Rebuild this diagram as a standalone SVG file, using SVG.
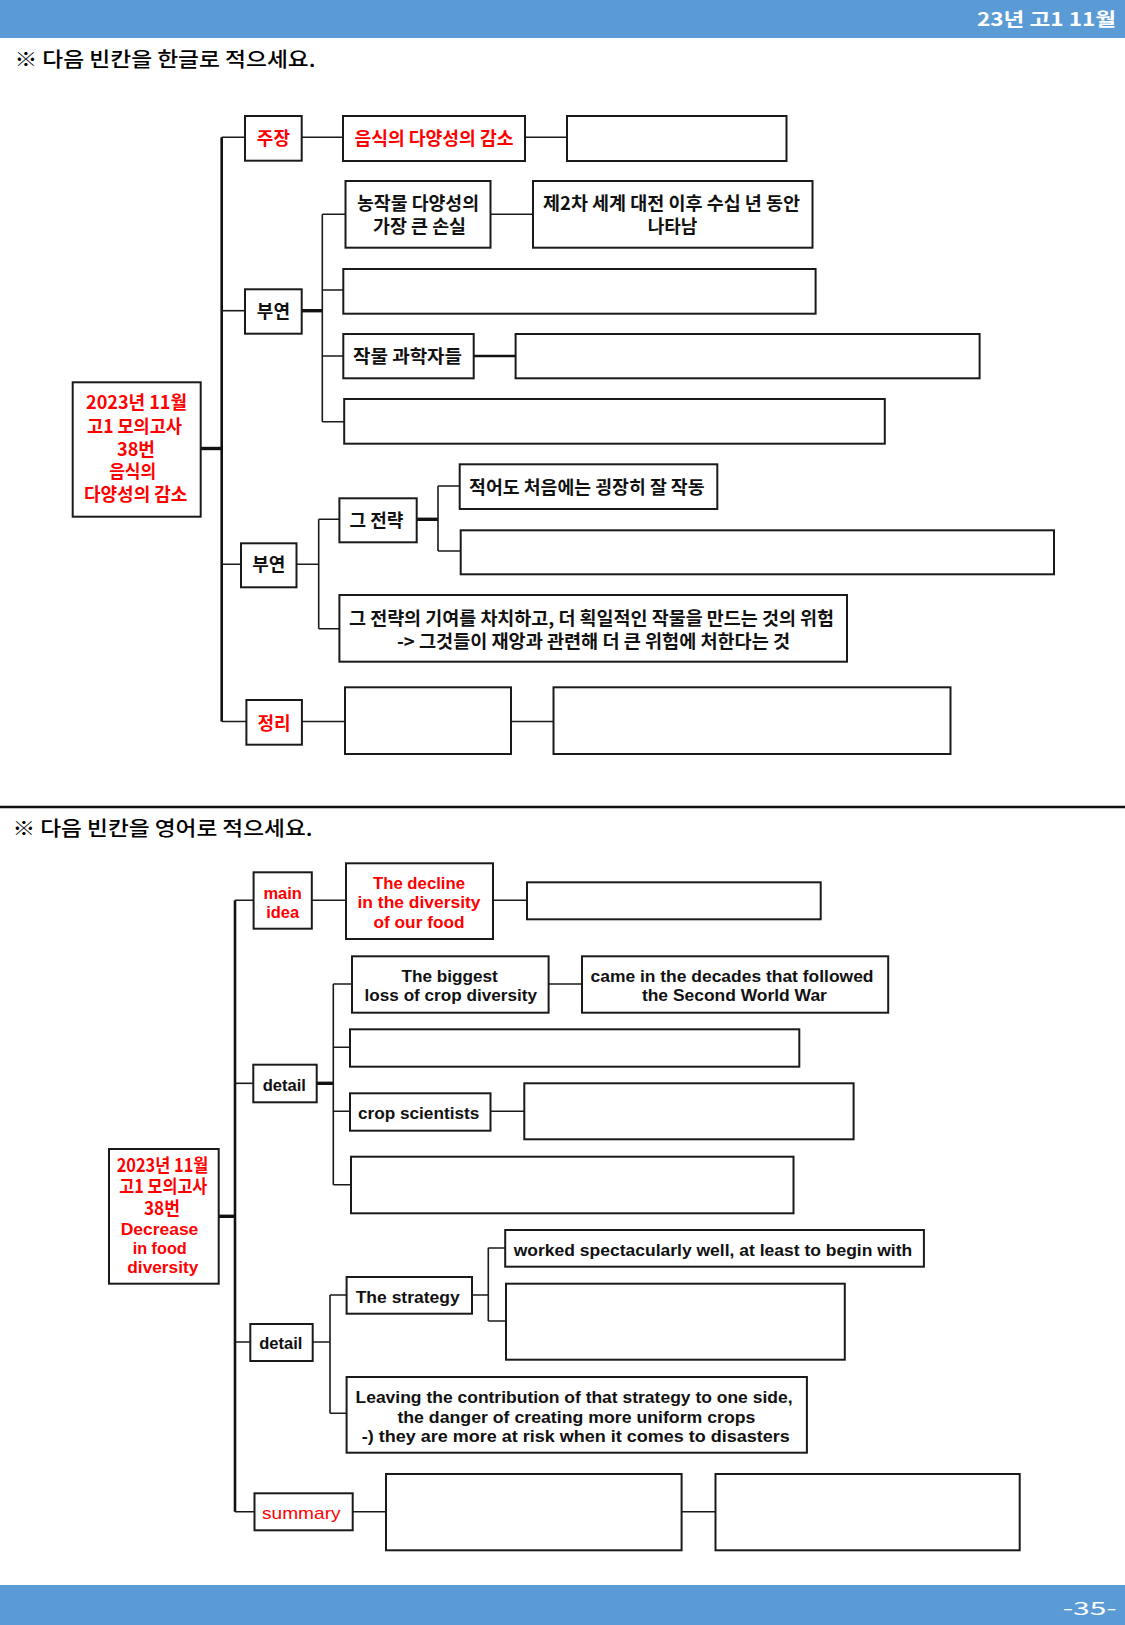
<svg xmlns="http://www.w3.org/2000/svg" width="1125" height="1625" viewBox="0 0 1125 1625">
<style>
.bar{fill:#5B9BD5}
.box{fill:#fff;stroke:#1a1a1a;stroke-width:2}
.c{fill:none;stroke:#1a1a1a;stroke-width:1.6}
.ct{fill:none;stroke:#111;stroke-width:3.4}
.tr{fill:none;stroke:#111;stroke-width:2.6}
text{font-family:"Noto Sans CJK KR","Noto Sans",sans-serif;text-anchor:middle;font-size:18px}
.k{font-weight:700;fill:#111}
.e{font-family:"Liberation Sans",Arial,sans-serif;font-weight:700;font-size:17px;fill:#111}
.r{fill:#f00}
.w{fill:#fff}
.h{text-anchor:start;font-size:20px;font-weight:500;fill:#000}
.lt{font-weight:400}
</style>
<rect class="bar" x="0" y="0" width="1125" height="38"/>
<text class="w" x="1046.5" y="26" font-size="22" font-weight="700" textLength="139" lengthAdjust="spacingAndGlyphs">23년 고1 11월</text>
<text class="h" x="14.5" y="67" textLength="301" lengthAdjust="spacingAndGlyphs">※ 다음 빈칸을 한글로 적으세요.</text>
<g id="connectors1">
<path class="tr" d="M221.7 137.3V721.5"/>
<path class="ct" d="M200.7 448.5H221.7"/>
<path class="c" d="M221.7 137.3H245M301.7 137.3H343M525 137.3H567"/>
<path class="c" d="M221.7 310.7H245"/>
<path class="ct" d="M301.7 310.7H322.3"/>
<path class="c" d="M322.3 214.3V421.7M322.3 214.3H345.5M490.6 214.3H533M322.3 290H343.3M322.3 356H343.3M322.3 421.7H344.2"/>
<path class="tr" d="M473.7 356H515.6"/>
<path class="c" d="M221.7 564.3H241M296.5 564.3H318.7M318.7 519.3V628.7M318.7 519.3H339.4M318.7 628.7H339.4"/>
<path class="ct" d="M416.7 519.3H438"/>
<path class="c" d="M438 486V551M438 486H459.7M438 551H460.7"/>
<path class="c" d="M221.7 721.5H246.4M301.9 721.5H345M511 721.5H553.5"/>
</g>
<g id="n-root1"><rect class="box" x="72.7" y="382.3" width="128" height="134.4"/>
<text class="k r" font-size="17"><tspan x="136.5" y="409" textLength="101" lengthAdjust="spacingAndGlyphs">2023년 11월</tspan><tspan x="134.5" y="433.3" textLength="95" lengthAdjust="spacingAndGlyphs">고1 모의고사</tspan><tspan x="136" y="455.5" textLength="38" lengthAdjust="spacingAndGlyphs">38번</tspan><tspan x="132.7" y="478" textLength="47" lengthAdjust="spacingAndGlyphs">음식의</tspan><tspan x="135.7" y="500.8" textLength="103.5" lengthAdjust="spacingAndGlyphs">다양성의 감소</tspan></text></g>
<g id="n-claim"><rect class="box" x="245" y="116" width="56.7" height="44.7"/><text class="k r" x="273.4" y="144.5">주장</text></g>
<g id="n-claim-text"><rect class="box" x="343" y="116" width="182" height="45"/><text class="k r" x="434" y="144.5" textLength="159" lengthAdjust="spacingAndGlyphs">음식의 다양성의 감소</text></g>
<g id="n-blank1"><rect class="box" x="567" y="116" width="219.5" height="45"/></g>
<g id="n-detail1"><rect class="box" x="245" y="289.3" width="56.7" height="44.4"/><text class="k" x="273.4" y="317.5">부연</text></g>
<g id="n-loss"><rect class="box" x="345.5" y="181" width="145" height="66.7"/>
<text class="k"><tspan x="418" y="209.5" textLength="122" lengthAdjust="spacingAndGlyphs">농작물 다양성의</tspan><tspan x="419.5" y="232.5" textLength="93" lengthAdjust="spacingAndGlyphs">가장 큰 손실</tspan></text></g>
<g id="n-ww2"><rect class="box" x="533" y="181" width="279.5" height="66.7"/>
<text class="k"><tspan x="671.5" y="209.5" textLength="257" lengthAdjust="spacingAndGlyphs">제2차 세계 대전 이후 수십 년 동안</tspan><tspan x="672.5" y="232.5">나타남</tspan></text></g>
<g id="n-blank2"><rect class="box" x="343.3" y="269" width="472.3" height="44.7"/></g>
<g id="n-scientists"><rect class="box" x="343.3" y="334" width="130.4" height="44.3"/><text class="k" x="407.5" y="362.5" textLength="109" lengthAdjust="spacingAndGlyphs">작물 과학자들</text></g>
<g id="n-blank3"><rect class="box" x="515.6" y="334" width="464" height="44.3"/></g>
<g id="n-blank4"><rect class="box" x="344.2" y="399" width="540.6" height="44.7"/></g>
<g id="n-detail2"><rect class="box" x="241" y="543.3" width="55.5" height="44"/><text class="k" x="268.8" y="571">부연</text></g>
<g id="n-strategy"><rect class="box" x="339.4" y="498.3" width="77.3" height="44"/><text class="k" x="376.5" y="526.5">그 전략</text></g>
<g id="n-worked"><rect class="box" x="459.7" y="464.3" width="257.6" height="44.7"/><text class="k" x="586.8" y="494" textLength="235.5" lengthAdjust="spacingAndGlyphs">적어도 처음에는 굉장히 잘 작동</text></g>
<g id="n-blank5"><rect class="box" x="460.7" y="530.3" width="593.3" height="44"/></g>
<g id="n-danger"><rect class="box" x="339.4" y="595" width="507.6" height="66.7"/>
<text class="k"><tspan x="591.5" y="624.5" textLength="485" lengthAdjust="spacingAndGlyphs">그 전략의 기여를 차치하고, 더 획일적인 작물을 만드는 것의 위험</tspan><tspan x="593.5" y="647.8" textLength="393" lengthAdjust="spacingAndGlyphs">-&gt; 그것들이 재앙과 관련해 더 큰 위험에 처한다는 것</tspan></text></g>
<g id="n-summary1"><rect class="box" x="246.4" y="700" width="55.5" height="44.7"/><text class="k r" x="274" y="730">정리</text></g>
<g id="n-blank6"><rect class="box" x="345" y="687.3" width="166" height="66.7"/></g>
<g id="n-blank7"><rect class="box" x="553.5" y="687.3" width="397" height="66.7"/></g>

<path d="M0 807H1125" stroke="#111" stroke-width="2.6"/>
<text class="h" x="12.5" y="836" textLength="300" lengthAdjust="spacingAndGlyphs">※ 다음 빈칸을 영어로 적으세요.</text>
<g id="connectors2">
<path class="tr" d="M235 900.3V1511.7"/>
<path class="c" d="M235 900.3H253.6M311.8 900.3H346M493 900.3H527"/>
<path class="c" d="M235 1083.3H253.3"/>
<path class="ct" d="M316.7 1083.3H333.3"/>
<path class="c" d="M333.3 984V1184.7M333.3 984H352M548.6 984H582M333.3 1047.3H350M333.3 1111.3H350M490.5 1111.3H524.3M333.3 1184.7H351"/>
<path class="ct" d="M218.7 1216.3H235"/>
<path class="c" d="M235 1342H250.3M312.7 1342H330M330 1295V1413.3M330 1295H346.6M330 1413.3H346.6M472 1295H488.3M488.3 1247.7V1321M488.3 1248H505.2M488.3 1321H506"/>
<path class="c" d="M235 1511.7H254.5M352.7 1511.7H386M681.6 1511.7H715.5"/>
</g>
<g id="n-root2"><rect class="box" x="109" y="1149" width="109.7" height="134.7"/>
<text class="k r" font-size="15"><tspan x="162.5" y="1171.5" textLength="91.7" lengthAdjust="spacingAndGlyphs">2023년 11월</tspan><tspan x="163.3" y="1193.3" textLength="88" lengthAdjust="spacingAndGlyphs">고1 모의고사</tspan><tspan x="162" y="1215" textLength="36" lengthAdjust="spacingAndGlyphs">38번</tspan></text>
<text class="e r" font-size="16.5"><tspan x="159.5" y="1235" textLength="77.7" lengthAdjust="spacingAndGlyphs">Decrease</tspan><tspan x="159.7" y="1254" textLength="54" lengthAdjust="spacingAndGlyphs">in food</tspan><tspan x="162.8" y="1273" textLength="71" lengthAdjust="spacingAndGlyphs">diversity</tspan></text></g>
<g id="n-mainidea"><rect class="box" x="253.6" y="872.3" width="58.2" height="56.4"/>
<text class="e r"><tspan x="282.7" y="898.5" textLength="38.5" lengthAdjust="spacingAndGlyphs">main</tspan><tspan x="282.7" y="917.5" textLength="33" lengthAdjust="spacingAndGlyphs">idea</tspan></text></g>
<g id="n-decline"><rect class="box" x="346" y="863.3" width="147" height="75.7"/>
<text class="e r"><tspan x="419" y="888.5" textLength="92" lengthAdjust="spacingAndGlyphs">The decline</tspan><tspan x="419" y="908" textLength="123" lengthAdjust="spacingAndGlyphs">in the diversity</tspan><tspan x="419" y="927.5" textLength="91" lengthAdjust="spacingAndGlyphs">of our food</tspan></text></g>
<g id="n-blank-a"><rect class="box" x="527" y="882.3" width="293.7" height="37"/></g>
<g id="n-detail-e1"><rect class="box" x="253.3" y="1064.7" width="63.4" height="37.6"/><text class="e" x="284.3" y="1090.5" textLength="43.3" lengthAdjust="spacingAndGlyphs">detail</text></g>
<g id="n-biggest"><rect class="box" x="352" y="956.3" width="196.6" height="56.4"/>
<text class="e"><tspan x="449.6" y="981.5" textLength="96.4" lengthAdjust="spacingAndGlyphs">The biggest</tspan><tspan x="450.8" y="1001" textLength="172.5" lengthAdjust="spacingAndGlyphs">loss of crop diversity</tspan></text></g>
<g id="n-came"><rect class="box" x="582" y="956.3" width="306.2" height="56.4"/>
<text class="e"><tspan x="732" y="981.5" textLength="283" lengthAdjust="spacingAndGlyphs">came in the decades that followed</tspan><tspan x="734.4" y="1001" textLength="185" lengthAdjust="spacingAndGlyphs">the Second World War</tspan></text></g>
<g id="n-blank-b"><rect class="box" x="350" y="1029.3" width="449.3" height="37.4"/></g>
<g id="n-crop"><rect class="box" x="350" y="1093.3" width="140.5" height="37.4"/><text class="e" x="418.6" y="1119" textLength="121.4" lengthAdjust="spacingAndGlyphs">crop scientists</text></g>
<g id="n-blank-c"><rect class="box" x="524.3" y="1083.3" width="329.3" height="56"/></g>
<g id="n-blank-d"><rect class="box" x="351" y="1156.7" width="442.5" height="56.6"/></g>
<g id="n-detail-e2"><rect class="box" x="250.3" y="1324" width="62.4" height="37"/><text class="e" x="280.8" y="1349" textLength="43" lengthAdjust="spacingAndGlyphs">detail</text></g>
<g id="n-thestrategy"><rect class="box" x="346.6" y="1277" width="125.4" height="36.7"/><text class="e" x="407.7" y="1303" textLength="104" lengthAdjust="spacingAndGlyphs">The strategy</text></g>
<g id="n-worked-e"><rect class="box" x="505.2" y="1230" width="418.7" height="36.7"/><text class="e" x="713" y="1255.5" textLength="398.5" lengthAdjust="spacingAndGlyphs">worked spectacularly well, at least to begin with</text></g>
<g id="n-blank-e"><rect class="box" x="506" y="1283.7" width="338.8" height="76"/></g>
<g id="n-leaving"><rect class="box" x="346.6" y="1377" width="460.3" height="75.7"/>
<text class="e"><tspan x="574" y="1403" textLength="437" lengthAdjust="spacingAndGlyphs">Leaving the contribution of that strategy to one side,</tspan><tspan x="576.4" y="1422.5" textLength="358" lengthAdjust="spacingAndGlyphs">the danger of creating more uniform crops</tspan><tspan x="575.8" y="1441.5" textLength="428" lengthAdjust="spacingAndGlyphs">-) they are more at risk when it comes to disasters</tspan></text></g>
<g id="n-summary2"><rect class="box" x="254.5" y="1493.3" width="98.2" height="37"/><text class="e r lt" x="301.3" y="1518.5" textLength="78.6" lengthAdjust="spacingAndGlyphs">summary</text></g>
<g id="n-blank-f"><rect class="box" x="386" y="1474" width="295.6" height="76.3"/></g>
<g id="n-blank-g"><rect class="box" x="715.5" y="1474" width="304.2" height="76.3"/></g>
<rect class="bar" x="0" y="1585" width="1125" height="40"/>
<text class="w" x="1089.7" y="1615" font-size="26" textLength="54" lengthAdjust="spacingAndGlyphs">-35-</text>
</svg>
